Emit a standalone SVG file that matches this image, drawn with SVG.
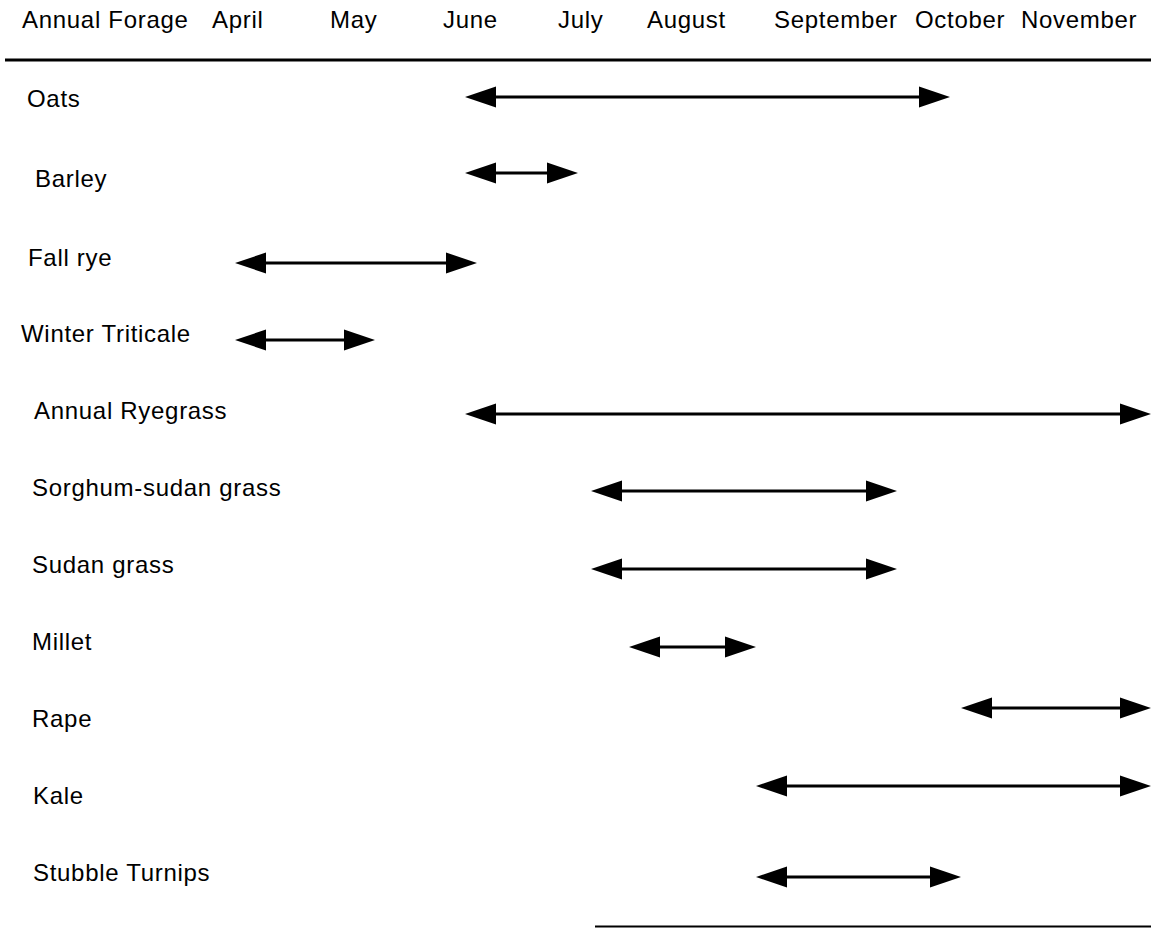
<svg xmlns="http://www.w3.org/2000/svg" width="1151" height="928" viewBox="0 0 1151 928">
<style>
text{font-family:"Liberation Sans",Arial,sans-serif;font-size:24px;fill:#000;letter-spacing:0.7px}
.conn line{stroke:#000;stroke-width:3.2;marker-start:url(#ah);marker-end:url(#ah)}
.rule{stroke:#000}
</style>
<defs>
<marker id="ah" markerUnits="userSpaceOnUse" markerWidth="32" markerHeight="24" refX="0" refY="0" viewBox="0 -12 32 24" orient="auto-start-reverse" overflow="visible">
<path d="M0,-10.5 L31,0 L0,10.5 Z" fill="#000"/>
</marker>
</defs>
<rect width="1151" height="928" fill="#fff"/>
<g id="header">
<text x="22" y="28">Annual Forage</text>
<text x="212" y="28">April</text>
<text x="330" y="28">May</text>
<text x="443" y="28">June</text>
<text x="558" y="28">July</text>
<text x="647" y="28">August</text>
<text x="774" y="28">September</text>
<text x="915" y="28">October</text>
<text x="1021" y="28">November</text>
</g>
<line class="rule" x1="5" y1="60" x2="1151" y2="60" stroke-width="3"/>
<line class="rule" x1="595" y1="926.5" x2="1151" y2="926.5" stroke-width="2"/>
<g id="oats"><text x="27" y="107">Oats</text></g>
<g id="barley"><text x="35" y="187">Barley</text></g>
<g id="fall-rye"><text x="28" y="266">Fall rye</text></g>
<g id="winter-triticale"><text x="21" y="342">Winter Triticale</text></g>
<g id="annual-ryegrass"><text x="34" y="419">Annual Ryegrass</text></g>
<g id="sorghum-sudan"><text x="32" y="496">Sorghum-sudan grass</text></g>
<g id="sudan"><text x="32" y="573">Sudan grass</text></g>
<g id="millet"><text x="32" y="650">Millet</text></g>
<g id="rape"><text x="32" y="727">Rape</text></g>
<g id="kale"><text x="33" y="804">Kale</text></g>
<g id="stubble-turnips"><text x="33" y="881">Stubble Turnips</text></g>
<g id="connectors" class="conn">
<line x1="496" y1="97" x2="919" y2="97"/>
<line x1="496" y1="173" x2="547" y2="173"/>
<line x1="266" y1="263" x2="446" y2="263"/>
<line x1="266" y1="340" x2="344" y2="340"/>
<line x1="496" y1="414" x2="1120" y2="414"/>
<line x1="622" y1="491" x2="866" y2="491"/>
<line x1="622" y1="569" x2="866" y2="569"/>
<line x1="660" y1="647" x2="725" y2="647"/>
<line x1="992" y1="708" x2="1120" y2="708"/>
<line x1="787" y1="786" x2="1120" y2="786"/>
<line x1="787" y1="877" x2="930" y2="877"/>
</g>
</svg>
